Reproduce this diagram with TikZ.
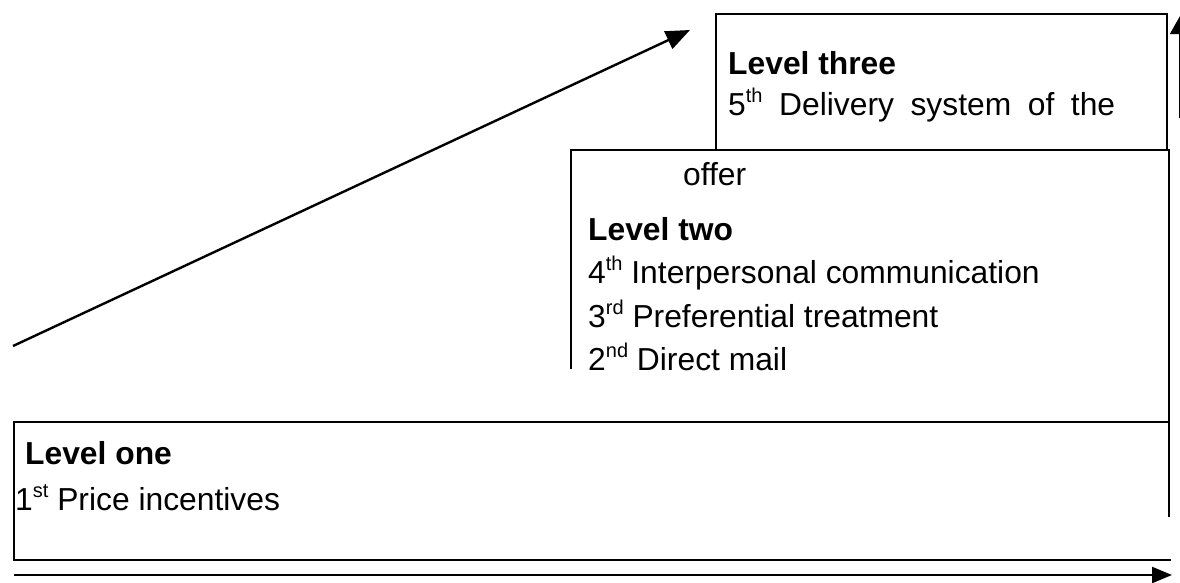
\documentclass[tikz,border=0pt]{standalone}
\usepackage{fontspec}
\setmainfont{Liberation Sans}
\usetikzlibrary{arrows.meta}
% ordinal suffix, set small and raised
\newcommand\ordsfx[1]{\raisebox{0.40em}{\fontsize{20}{20}\selectfont #1}}
\tikzset{
  edge/.style={line width=2pt, line cap=rect},
  arrowline/.style={line width=2.4pt, -{Triangle[length=24pt,width=19pt]}},
  txt/.style={anchor=base west, inner sep=0pt, font=\fontsize{31.8}{38}\selectfont},
  head/.style={txt, font=\fontsize{31.8}{38}\selectfont\bfseries},
}
\begin{document}
\begin{tikzpicture}[x=1pt,y=-1pt]
\useasboundingbox (0,0) rectangle (1180,582);
\clip (0,0) rectangle (1180,582);

% corner points of the three stepped boxes
\coordinate (t1) at (716,14);  \coordinate (t2) at (1167,14);
\coordinate (t3) at (716,150); \coordinate (t4) at (1167,150);
\coordinate (m1) at (571,150); \coordinate (m2) at (1169,150);
\coordinate (m3) at (571,368); \coordinate (m4) at (1169,516);
\coordinate (b1) at (14,422);  \coordinate (b2) at (1169,422);
\coordinate (b3) at (14,560);  \coordinate (b4) at (1170,560);

% level three box
\draw[edge] (t3) -- (t1) -- (t2) -- (t4);
% level two box
\draw[edge] (m3) -- (m1) -- (m2) -- (m4);
% level one box
\draw[edge] (b2) -- (b1) -- (b3) -- (b4);

% arrows
\coordinate (hs) at (14,575);  \coordinate (he) at (1172,575);
\coordinate (ds) at (13,346);  \coordinate (de) at (690,30);
\coordinate (vs) at (1180,118); \coordinate (ve) at (1180,16);
\draw[arrowline, -{Triangle[length=20pt,width=16pt]}] (hs) -- (he);
\draw[arrowline] (ds) -- (de);
\draw[arrowline, line width=1.6pt, -{Triangle[length=18pt,width=20pt]}] (vs) -- (ve);

% level three text
\node[head] (l3) at (728,74) {Level three};
\node[txt] (l3a) at (728,115) {\makebox[387pt][s]{5\ordsfx{th} Delivery system of the}};
\node[txt] (l3b) at (683,185) {offer};

% level two text
\node[head] (l2) at (588,240) {Level two};
\node[txt] (l2a) at (588,283) {4\ordsfx{th} Interpersonal communication};
\node[txt] (l2b) at (588,327) {3\ordsfx{rd} Preferential treatment};
\node[txt] (l2c) at (588,370) {2\ordsfx{nd} Direct mail};

% level one text
\node[head] (l1) at (25,464) {Level one};
\node[txt] (l1a) at (15,510) {1\ordsfx{st} Price incentives};
\end{tikzpicture}
\end{document}
